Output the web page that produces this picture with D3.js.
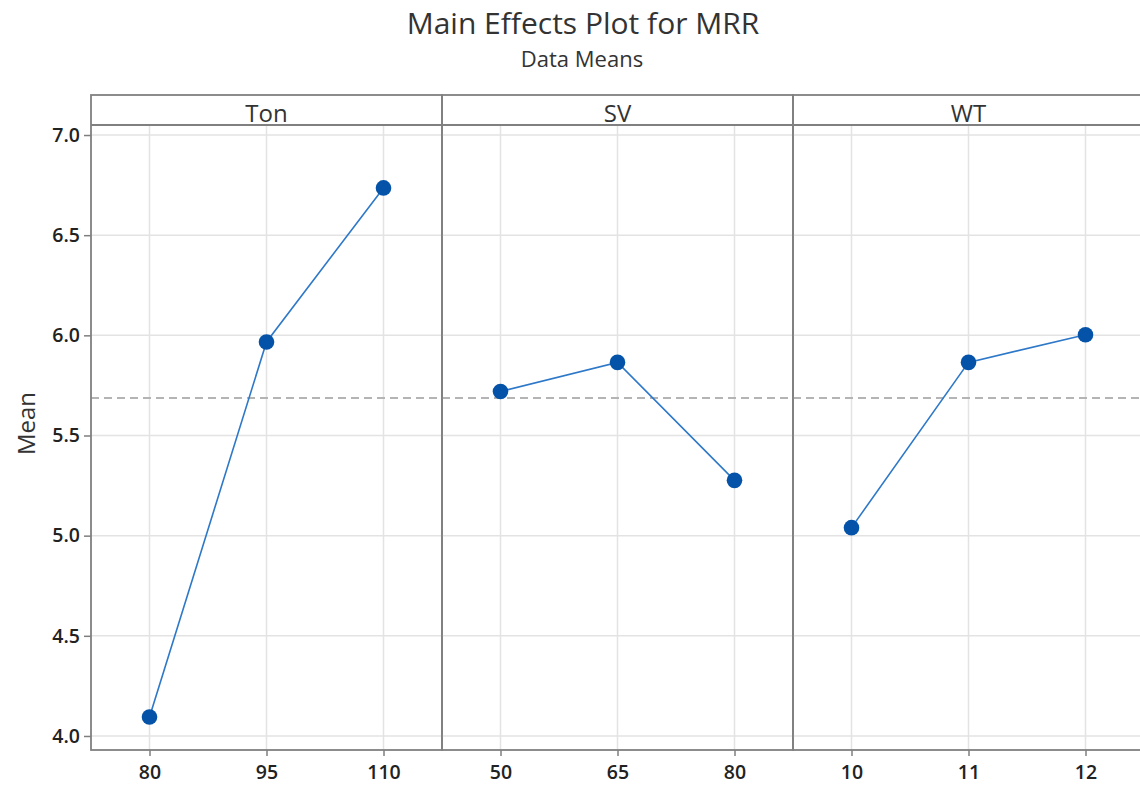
<!DOCTYPE html>
<html><head><meta charset="utf-8">
<script src="https://cdn.jsdelivr.net/npm/d3@7"></script>
<style>body{margin:0;background:#fff;} svg{display:block;}</style>
</head><body>
<svg id="c" width="1140" height="788"></svg>
<script>
const factors = ["Ton", "SV", "WT"];
const levelsTon = ["80", "95", "110"];
const levelsSV = ["50", "65", "80"];
const levelsWT = ["10", "11", "12"];
const meansTon = [4.095, 5.967, 6.736];
const meansSV = [5.72, 5.865, 5.276];
const meansWT = [5.04, 5.865, 6.003];
const grandMean = 5.687;
const yTicks = [4.0, 4.5, 5.0, 5.5, 6.0, 6.5, 7.0];
const title = "Main Effects Plot for MRR";
const subtitle = "Data Means";
const yLabel = "Mean";

const panels = [
  {name: factors[0], levels: levelsTon, means: meansTon},
  {name: factors[1], levels: levelsSV, means: meansSV},
  {name: factors[2], levels: levelsWT, means: meansWT}
];

const svg = d3.select("#c");
const font = "'Open Sans', 'Noto Sans', sans-serif";
const left = 91, panelW = 351, stripTop = 95, plotTop = 125, plotBottom = 750;

const y = d3.scaleLinear().domain([3.93, 7.05]).range([plotBottom, plotTop]);

svg.append("text").attr("x", 583).attr("y", 34).attr("text-anchor", "middle")
  .attr("font-family", font).attr("font-size", 30).attr("font-weight", 500).attr("fill", "#333").text(title);
svg.append("text").attr("x", 582).attr("y", 67).attr("text-anchor", "middle")
  .attr("font-family", font).attr("font-size", 22).attr("fill", "#333").text(subtitle);
svg.append("text").attr("transform", `translate(35,${y(5.56)}) rotate(-90)`).attr("text-anchor", "middle")
  .attr("font-family", font).attr("font-size", 24).attr("fill", "#333").text(yLabel);

panels.forEach((p, i) => {
  const x0 = left + i * panelW;
  const x = d3.scalePoint().domain(p.levels).range([x0, x0 + panelW]).padding(0.5);
  const g = svg.append("g");
  // grid
  g.selectAll(".hg").data(yTicks).enter().append("line")
    .attr("x1", x0).attr("x2", x0 + panelW).attr("y1", d => y(d)).attr("y2", d => y(d))
    .attr("stroke", "#e3e3e3").attr("stroke-width", 1.5);
  g.selectAll(".vg").data(p.levels).enter().append("line")
    .attr("x1", d => x(d)).attr("x2", d => x(d)).attr("y1", plotTop).attr("y2", plotBottom)
    .attr("stroke", "#e3e3e3").attr("stroke-width", 1.5);
  // grand mean
  g.append("line").attr("x1", x0).attr("x2", x0 + panelW).attr("y1", y(grandMean)).attr("y2", y(grandMean))
    .attr("stroke", "#b4b4b4").attr("stroke-width", 2).attr("stroke-dasharray", "8,5");
  // line
  const line = d3.line().x((d, j) => x(p.levels[j])).y(d => y(d));
  g.append("path").datum(p.means).attr("d", line).attr("fill", "none")
    .attr("stroke", "#2e78c8").attr("stroke-width", 1.6);
  g.selectAll(".pt").data(p.means).enter().append("circle")
    .attr("cx", (d, j) => x(p.levels[j])).attr("cy", d => y(d)).attr("r", 7.8)
    .attr("fill", "#0553a8");
  // x axis
  const ax = d3.axisBottom(x).tickSize(6).tickPadding(9);
  const axg = svg.append("g").attr("transform", `translate(0,${plotBottom})`).call(ax);
  axg.select(".domain").remove();
  axg.selectAll("line").attr("stroke", "#7f7f7f").attr("stroke-width", 1.5);
  axg.selectAll("text").attr("font-family", font).attr("font-size", 19.5).attr("fill", "#222").attr("font-weight", 600);
  // strip
  svg.append("text").attr("x", x0 + panelW / 2).attr("y", 122).attr("text-anchor", "middle")
    .attr("font-family", font).attr("font-size", 24).attr("fill", "#333").text(p.name);
  // panel borders
  svg.append("rect").attr("x", x0).attr("y", stripTop).attr("width", panelW).attr("height", plotBottom - stripTop)
    .attr("fill", "none").attr("stroke", "#808080").attr("stroke-width", 1.8);
  svg.append("line").attr("x1", x0).attr("x2", x0 + panelW).attr("y1", plotTop).attr("y2", plotTop)
    .attr("stroke", "#808080").attr("stroke-width", 1.8);
});

// y axis
const yax = d3.axisLeft(y).tickValues(yTicks).tickFormat(d3.format(".1f")).tickSize(7).tickPadding(4);
const yg = svg.append("g").attr("transform", `translate(${left},0)`).call(yax);
yg.select(".domain").remove();
yg.selectAll("line").attr("stroke", "#7f7f7f").attr("stroke-width", 1.5);
yg.selectAll("text").attr("font-family", font).attr("font-size", 19.5).attr("fill", "#222").attr("font-weight", 600);
</script>
</body></html>
